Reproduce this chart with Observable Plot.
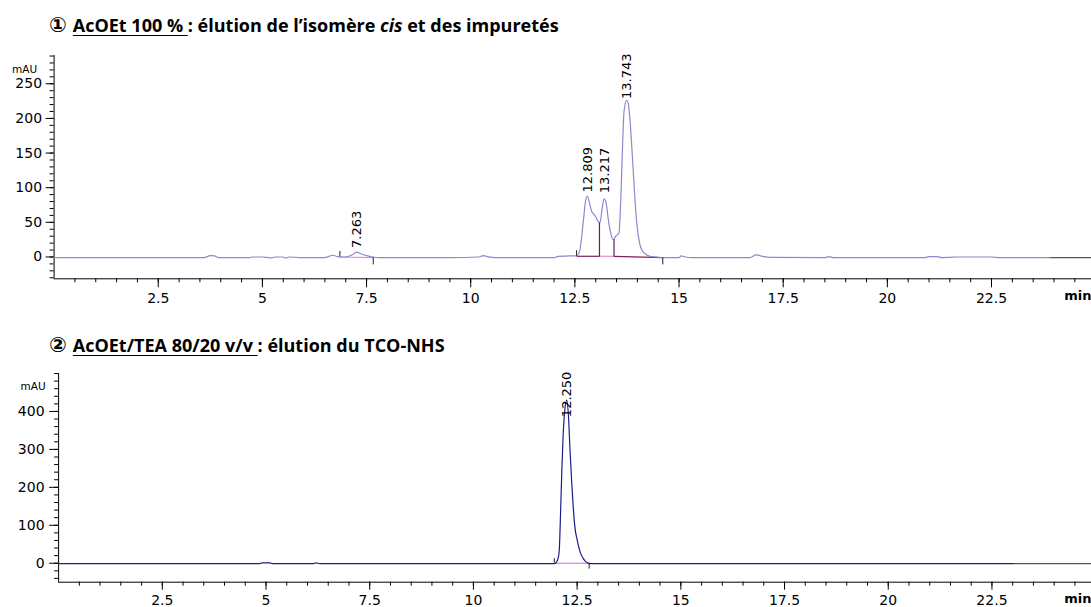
<!DOCTYPE html>
<html><head><meta charset="utf-8">
<script src="https://cdn.jsdelivr.net/npm/d3@7"></script>
<script src="https://cdn.jsdelivr.net/npm/@observablehq/plot@0.6"></script>
<style>
body{margin:0;background:#fff;width:1091px;height:607px;overflow:hidden;position:relative;}
.title{position:absolute;left:49px;font-family:"Open Sans","DejaVu Sans",sans-serif;font-weight:700;white-space:nowrap;color:#000;line-height:24px;font-size:18px}
.title u{text-decoration-thickness:1.3px;text-underline-offset:3px}
.title .num{font-family:"DejaVu Sans",sans-serif;font-weight:700;font-size:21px;margin-right:6px}
#t1{top:13px} #t2{top:333px}
#c1{position:absolute;left:0;top:40px} #c2{position:absolute;left:0;top:360px}
svg{overflow:visible}
</style></head><body>
<div id="t1" class="title"><span class="num">①</span><u>AcOEt 100 % </u>: élution de l’isomère <i>cis</i> et des impuretés</div>
<div id="c1"></div>
<div id="t2" class="title"><span class="num">②</span><u>AcOEt/TEA 80/20 v/v </u>: élution du TCO-NHS</div>
<div id="c2"></div>
<script>
// ---------- Chromatogram 1 (AcOEt 100 %) ----------
const topTime = [0,3.6,3.75,3.85,3.95,4.7,4.75,5.0,5.1,5.2,5.3,5.5,5.55,5.65,5.8,5.9,6.5,6.6,6.7,6.8,6.9,7.0,7.15,7.26,7.35,7.5,7.65,7.8,9.5,10.2,10.3,10.4,10.6,12.0,12.1,12.4,12.55,12.62,12.7,12.76,12.8,12.85,12.9,12.95,13.0,13.05,13.1,13.15,13.2,13.25,13.3,13.37,13.43,13.48,13.56,13.6,13.65,13.68,13.74,13.78,13.82,13.86,13.9,13.94,13.98,14.02,14.06,14.12,14.2,14.3,14.45,14.6,15.0,15.05,15.15,15.3,16.7,16.85,17.0,17.2,18.5,18.6,18.7,20.9,21.0,21.2,21.3,21.5,21.7,22.5,22.7,23.9];
const topAbs  = [-1,-1,2,1.5,-1,-1,0,0,-0.5,-1.5,0,0,-1.5,0,-0.5,-1,-1,1,2.5,0.5,0,0,3,7,5,2,0,-1,-1,0,2,0.5,-1,-1,1,1.5,2,10,50,82,88,78,66,62,58,52,49,68,84,78,55,32,25,30,35,80,170,210,226,222,200,165,125,85,52,32,18,9,4,1,0,-1,-1,1.5,0,-1,-1,3,1,-0.5,-1,0.5,-1,-1,0.5,0.5,-1,-0.5,0,0,-1,-1];
const topTailTime = [23.9, 24.9];
const topTailAbs = [-1, -1];
const topPeakRT = [7.263, 12.809, 13.217, 13.743];
const topPeakLabelAt = [13, 93, 92, 228];
const topSegStart = [6.86, 12.54, 13.09, 13.44];
const topSegEnd   = [7.66, 13.09, 13.44, 14.61];
const topSegStartAbs = [0, 1, 1, 1];
const topSegEndAbs   = [-1, 1, 1, -1];
const topDropRT = [13.09, 13.44];
const topDropAbs = [49, 25];
const topYMajor = [0, 50, 100, 150, 200, 250];

// ---------- Chromatogram 2 (AcOEt/TEA 80/20) ----------
const botTime = [0,4.85,4.9,5.1,5.15,6.15,6.2,6.3,11.95,12.0,12.04,12.07,12.1,12.13,12.16,12.2,12.25,12.29,12.33,12.37,12.41,12.45,12.5,12.55,12.6,12.65,12.7,12.75,12.8,23.0];
const botAbs  = [-1,-1,1,1,-1,-1,1,-1,-1,3,12,35,130,240,330,400,430,390,295,212,142,92,62,38,22,12,5,1,-1,-1];
const botTailTime = [23.0, 24.9];
const botTailAbs = [-1, -1];
const botPeakRT = [12.250];
const botPeakLabelAt = [385];
const botSegStart = [11.95];
const botSegEnd = [12.79];
const botYMajor = [0, 100, 200, 300, 400];

const xMajor = [2.5, 5, 7.5, 10, 12.5, 15, 17.5, 20, 22.5];
const xMinor = d3.range(0.5, 24.9, 0.5);

const W = 1091;
const zip = (a, b) => a.map((v, i) => ({t: v, a: b[i]}));
const fmt = d => String(d);

function chrom({height, marginTop, marginBottom, marginLeft, yDomain, yMajor, yMinor,
                trace, tail, traceColor, peaks, segs, segColors, drops, tickLen,
                xTickSize, yTickSize, yTickPad, mauDx, mauDy}) {
  const marks = [
    Plot.axisX(xMajor, {tickSize: xTickSize, tickPadding: 5, tickFormat: fmt, label: null, fontSize: 14}),
    Plot.axisX(xMinor, {tickSize: 4, tickFormat: () => "", label: null}),
    Plot.axisY(yMajor, {tickSize: yTickSize, tickPadding: yTickPad, tickFormat: fmt, label: null, fontSize: 14}),
    Plot.axisY(yMinor, {tickSize: 4, tickFormat: () => "", label: null}),
    Plot.ruleX([0], {stroke: "#000"}),
    Plot.ruleY([yDomain[0]], {stroke: "#000"}),
    Plot.text(["mAU"], {frameAnchor: "top-left", dx: mauDx, dy: mauDy, textAnchor: "end", fontSize: 10.5, fill: "#000"}),
    Plot.text(["min"], {frameAnchor: "bottom-right", dy: 21, textAnchor: "end", fontSize: 13, fontWeight: "bold", fill: "#000"}),
    Plot.line(tail, {x: "t", y: "a", stroke: "#555", strokeWidth: 1.2}),
    Plot.link(segs, {x1: "x1", y1: "y1", x2: "x2", y2: "y2", stroke: (d, i) => segColors[i], strokeWidth: 1.2}),
    Plot.line(trace, {x: "t", y: "a", stroke: traceColor, strokeWidth: 1.2, curve: "monotone-x"}),
    Plot.ruleX(drops, {x: "t", y1: 0, y2: "a", stroke: "#6a1b5a", strokeWidth: 1.2}),
    Plot.ruleX(segs.filter(d => d.first), {x: "x1", y1: "y1", y2: d => d.y1 + tickLen, stroke: "#222"}),
    Plot.ruleX(segs.filter(d => d.last), {x: "x2", y1: "y2", y2: d => d.y2 - tickLen * 1.3, stroke: "#222"}),
    Plot.text(peaks, {x: "rt", y: "ly", text: d => d.rt.toFixed(3), rotate: -90, textAnchor: "start", fontSize: 13, fill: "#000"})
  ];
  return Plot.plot({
    width: W, height, marginLeft, marginRight: 0, marginTop, marginBottom,
    x: {domain: [0, 24.9], axis: null},
    y: {domain: yDomain, axis: null},
    style: {fontFamily: "DejaVu Sans", fontSize: "13px", color: "#000", background: "#fff", overflow: "visible"},
    marks
  });
}

// chart 1
const segs1 = topSegStart.map((s, i) => ({x1: s, x2: topSegEnd[i], y1: topSegStartAbs[i], y2: topSegEndAbs[i],
  first: i === 0 || topSegStart[i] !== topSegEnd[i - 1], last: i === topSegStart.length - 1 || topSegEnd[i] !== topSegStart[i + 1]}));
const p1 = chrom({
  height: 270, marginTop: 15, marginBottom: 31.7, marginLeft: 53.6,
  yDomain: [-31.5, 290.8], yMajor: topYMajor, yMinor: d3.range(-30, 291, 10),
  trace: zip(topTime, topAbs), tail: zip(topTailTime, topTailAbs), traceColor: "#8a8ad0",
  peaks: topPeakRT.map((rt, i) => ({rt, ly: topPeakLabelAt[i]})),
  segs: segs1, segColors: ["#e28ad8", "#7a1f5c", "#e28ad8", "#7a1f5c"],
  drops: zip(topDropRT, topDropAbs), tickLen: 8,
  xTickSize: 9, yTickSize: 8, yTickPad: 4, mauDx: -17, mauDy: 10
});
document.getElementById("c1").appendChild(p1);

// chart 2
const segs2 = botSegStart.map((s, i) => ({x1: s, x2: botSegEnd[i], y1: 0, y2: 0, first: true, last: true}));
const p2 = chrom({
  height: 247, marginTop: 13, marginBottom: 25.3, marginLeft: 58.1,
  yDomain: [-50, 500], yMajor: botYMajor, yMinor: d3.range(-40, 501, 20),
  trace: zip(botTime, botAbs), tail: zip(botTailTime, botTailAbs), traceColor: "#1c1c8a",
  peaks: botPeakRT.map((rt, i) => ({rt, ly: botPeakLabelAt[i]})),
  segs: segs2, segColors: ["#e060d0"],
  drops: [], tickLen: 12,
  xTickSize: 8, yTickSize: 9, yTickPad: 5, mauDx: -13, mauDy: 9
});
document.getElementById("c2").appendChild(p2);
</script>
</body></html>
